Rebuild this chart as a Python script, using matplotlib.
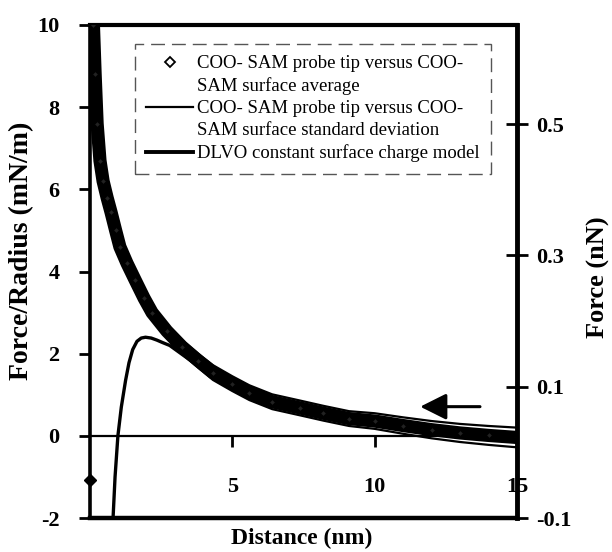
import matplotlib
matplotlib.use('Agg')
import matplotlib.pyplot as plt
from matplotlib.lines import Line2D

# ---- data ----
dist_avg = [0.12, 0.18, 0.25, 0.35, 0.46, 0.6, 0.74, 0.9, 1.05, 1.3, 1.58, 1.9,
            2.18, 2.7, 3.23, 3.8, 4.32, 5.0, 5.6, 6.4, 7.37, 8.2, 9.1, 10.0,
            11.0, 12.0, 13.0, 14.0, 15.0]
force_avg = [10.0, 8.8, 7.6, 6.7, 6.2, 5.8, 5.44, 5.0, 4.6, 4.2, 3.8, 3.35,
             3.0, 2.55, 2.17, 1.83, 1.54, 1.27, 1.05, 0.83, 0.68, 0.55, 0.42, 0.36,
             0.25, 0.15, 0.07, 0.01, -0.04]
force_sd = [0.1, 0.1, 0.1, 0.1, 0.1, 0.1, 0.1, 0.1, 0.1, 0.11, 0.12, 0.13,
            0.14, 0.15, 0.16, 0.17, 0.18, 0.18, 0.18, 0.18, 0.18, 0.18, 0.18, 0.19,
            0.2, 0.21, 0.22, 0.23, 0.24]
dlvo_x = [0.78, 0.81, 0.88, 0.98, 1.1, 1.25, 1.37, 1.5, 1.65, 1.8, 1.95, 2.15,
          2.35, 2.55, 2.8, 3.2, 4.0, 5.0, 6.0, 7.0, 8.0, 9.0, 10.0, 11.0, 12.0,
          13.0, 14.0, 15.0]
dlvo_y = [-2.5, -2.0, -1.0, 0.0, 0.7, 1.35, 1.78, 2.1, 2.3, 2.38, 2.4, 2.38,
          2.33, 2.27, 2.2, 2.0, 1.6, 1.2, 0.9, 0.66, 0.5, 0.38, 0.28, 0.2, 0.13,
          0.08, 0.04, 0.02]
contact_x = [0.0]
contact_y = [-1.07]

y_ticks = [-2, 0, 2, 4, 6, 8, 10]
x_ticks = [5, 10, 15]
nN_ticks = [-0.1, 0.1, 0.3, 0.5]
nN_labels = ['-0.1', '0.1', '0.3', '0.5']

legend_labels = ['COO- SAM probe tip versus COO-',
                 'SAM surface average',
                 'COO- SAM probe tip versus COO-',
                 'SAM surface standard deviation',
                 'DLVO constant surface charge model']

serif = ['Liberation Serif', 'DejaVu Serif']

fig = plt.figure(figsize=(6.12, 5.52), dpi=100)
ax = fig.add_axes([90 / 612, 1 - 518 / 552, 427 / 612, 493 / 552])

upper = [a + s for a, s in zip(force_avg, force_sd)]
lower = [a - s for a, s in zip(force_avg, force_sd)]

ax.plot(dist_avg, force_avg, color='black', lw=9.5, solid_capstyle='butt',
        solid_joinstyle='round', zorder=3)
ax.plot(dist_avg, upper, color='black', lw=1.6, zorder=4)
ax.plot(dist_avg, lower, color='black', lw=1.6, zorder=4)
ax.plot(dist_avg, force_avg, linestyle='none', marker='D', ms=3,
        mfc='#222222', mec='black', mew=0.6, zorder=5)
dlvo_line, = ax.plot(dlvo_x, dlvo_y, color='black', lw=2.4, zorder=4)
ax.plot(contact_x, contact_y, linestyle='none', marker='D', ms=6, color='black',
        clip_on=False, zorder=6)

ax.set_xlim(0, 15)
ax.set_ylim(-2, 10)

# spines
ax.spines['bottom'].set_position(('data', 0))
ax.spines['bottom'].set_linewidth(1.6)
ax.spines['left'].set_linewidth(2.6)
ax.spines['top'].set_linewidth(3)
ax.spines['right'].set_visible(False)
ax.axhline(-2, color='black', lw=3.2, clip_on=False, zorder=6)

ax.set_yticks(y_ticks)
ax.set_yticklabels([str(v) for v in y_ticks])
ax.set_xticks(x_ticks)
ax.set_xticklabels([str(v) for v in x_ticks])
ax.tick_params(axis='y', direction='out', length=8, width=2, pad=14)
ax.tick_params(axis='x', direction='out', length=8, width=2, pad=22)
for lab in ax.get_xticklabels() + ax.get_yticklabels():
    lab.set_family(serif)
    lab.set_fontweight('bold')
    lab.set_fontsize(16)

ax2 = ax.twinx()
ax2.set_ylim(-0.1, 0.651)
ax2.set_yticks(nN_ticks)
ax2.set_yticklabels(nN_labels)
for s in ['left', 'top', 'bottom']:
    ax2.spines[s].set_visible(False)
ax2.spines['right'].set_linewidth(3.5)
ax2.tick_params(axis='y', direction='inout', length=16, width=2, pad=6)
for lab in ax2.get_yticklabels():
    lab.set_family(serif)
    lab.set_fontweight('bold')
    lab.set_fontsize(16)

# arrow
ax.annotate('', xy=(11.6, 0.71), xytext=(13.7, 0.71),
            arrowprops=dict(arrowstyle='-|>,head_length=0.8,head_width=0.4',
                            lw=2.2, color='black', mutation_scale=20,
                            shrinkA=0, shrinkB=0), zorder=7)

# legend
blank = Line2D([], [], linestyle='none')
thin = Line2D([], [], color='black', lw=1.6)
thick = Line2D([], [], color='black', lw=2.8)
leg_handles = [Line2D([], [], linestyle='none', marker='D', ms=5, mfc='white',
                      mec='black', mew=1.3),
               blank, thin, blank, thick]
leg = ax.legend(leg_handles, legend_labels, loc='upper left',
                bbox_to_anchor=(0.105, 0.962), borderaxespad=0,
                prop={'family': serif, 'size': 13.5}, labelspacing=0.27,
                handlelength=2.5, handletextpad=0.2, borderpad=0.6,
                fancybox=False, framealpha=1)
leg.get_frame().set_linestyle((0, (10, 5)))
leg.get_frame().set_edgecolor('#555555')
leg.get_frame().set_linewidth(1.0)
leg.set_zorder(10)

# axis labels
fig.text(302 / 612, 1 - 538 / 552, 'Distance (nm)', ha='center', va='center',
         family=serif, fontweight='bold', fontsize=17)
fig.text(22 / 612, 1 - 251 / 552, 'Force/Radius (mN/m)', ha='center', va='center',
         rotation=90, family=serif, fontweight='bold', fontsize=20)
fig.text(598 / 612, 1 - 277 / 552, 'Force (nN)', ha='center', va='center',
         rotation=90, family=serif, fontweight='bold', fontsize=19)

fig.savefig('out.png', dpi=100)
